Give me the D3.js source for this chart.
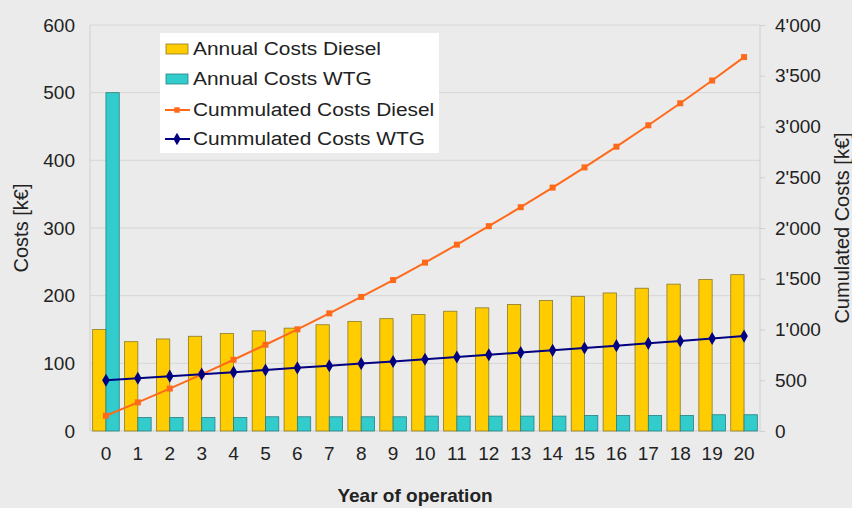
<!DOCTYPE html>
<meta charset="utf-8">
<script src="https://d3js.org/d3.v7.min.js"></script>
<style>
  body { margin: 0; background: #ebebeb; }
  text { font-family: "Liberation Sans", Arial, sans-serif; fill: #222; }
</style>
<div id="chart"></div>
<script>
// data
var years = d3.range(0, 21);
var annualDiesel = [150, 132, 136, 140, 144, 148, 152, 157, 162, 166, 172, 177, 182, 187, 193, 199, 204, 211, 217, 224, 231];
var annualWTG = [500, 20, 20, 20, 20, 21, 21, 21, 21, 21, 22, 22, 22, 22, 22, 23, 23, 23, 23, 24, 24];
var cumDiesel = [150, 282, 418, 558, 702, 850, 1002, 1159, 1321, 1487, 1659, 1836, 2018, 2205, 2398, 2597, 2801, 3012, 3229, 3453, 3684];
var cumWTG = [500, 520, 540, 560, 580, 601, 622, 643, 664, 685, 707, 729, 751, 773, 795, 818, 841, 864, 887, 911, 935];
var leftTicks = [0, 100, 200, 300, 400, 500, 600];
var rightTicks = [0, 500, 1000, 1500, 2000, 2500, 3000, 3500, 4000];

var W = 852, H = 508;
var margin = {top: 25, right: 92, bottom: 77, left: 90};
var width = W - margin.left - margin.right,
    height = H - margin.top - margin.bottom;

var svg = d3.select("#chart").append("svg")
    .attr("width", W).attr("height", H)
    .style("background", "#ebebeb");

var g = svg.append("g")
    .attr("transform", "translate(" + margin.left + "," + margin.top + ")");

var x = d3.scaleBand().domain(years).range([0, width]).padding(0);
var xSub = d3.scaleBand().domain(["diesel", "wtg"]).range([0, x.bandwidth()])
    .paddingInner(0).paddingOuter(0.2);
var y = d3.scaleLinear().domain([0, 600]).range([height, 0]);
var y2 = d3.scaleLinear().domain([0, 4000]).range([height, 0]);

// grid
g.append("g").selectAll("line")
  .data(leftTicks.slice(1))
  .enter().append("line")
    .attr("x1", 0).attr("x2", width)
    .attr("y1", function(d) { return y(d); })
    .attr("y2", function(d) { return y(d); })
    .attr("stroke", "#d6d6d6").attr("stroke-width", 1);

// frame
g.append("line").attr("x1", 0).attr("x2", 0).attr("y1", 0).attr("y2", height)
  .attr("stroke", "#cfcfcf");
g.append("line").attr("x1", width).attr("x2", width).attr("y1", 0).attr("y2", height)
  .attr("stroke", "#cfcfcf");
g.append("line").attr("x1", 0).attr("x2", width).attr("y1", height).attr("y2", height)
  .attr("stroke", "#cfcfcf");

// bars
var bars = g.append("g").selectAll("g")
  .data(years)
  .enter().append("g")
    .attr("transform", function(d) { return "translate(" + x(d) + ",0)"; });

bars.append("rect")
    .attr("x", xSub("diesel"))
    .attr("y", function(d, i) { return y(annualDiesel[i]); })
    .attr("width", xSub.bandwidth())
    .attr("height", function(d, i) { return height - y(annualDiesel[i]); })
    .attr("fill", "#ffcc00")
    .attr("stroke", "#8a7a2a").attr("stroke-width", 0.8);

bars.append("rect")
    .attr("x", xSub("wtg"))
    .attr("y", function(d, i) { return y(annualWTG[i]); })
    .attr("width", xSub.bandwidth())
    .attr("height", function(d, i) { return height - y(annualWTG[i]); })
    .attr("fill", "#33cccc")
    .attr("stroke", "#2a7f80").attr("stroke-width", 0.8);

// lines
var cx = function(d, i) { return x(years[i]) + x.bandwidth() / 2; };
var lineD = d3.line().x(cx).y(function(d) { return y2(d); });

g.append("path").datum(cumDiesel)
    .attr("d", lineD).attr("fill", "none")
    .attr("stroke", "#ff6a1a").attr("stroke-width", 2);
g.append("g").selectAll("rect")
  .data(cumDiesel)
  .enter().append("rect")
    .attr("x", function(d, i) { return cx(d, i) - 3; })
    .attr("y", function(d) { return y2(d) - 3; })
    .attr("width", 6).attr("height", 6)
    .attr("fill", "#ff6a1a");

g.append("path").datum(cumWTG)
    .attr("d", lineD).attr("fill", "none")
    .attr("stroke", "#000080").attr("stroke-width", 2);
g.append("g").selectAll("path")
  .data(cumWTG)
  .enter().append("path")
    .attr("d", d3.symbol().type(d3.symbolDiamond).size(50))
    .attr("transform", function(d, i) { return "translate(" + cx(d, i) + "," + y2(d) + ")"; })
    .attr("fill", "#000080");

// axes
var yAxis = g.append("g")
    .call(d3.axisLeft(y).tickValues(leftTicks).tickSize(0).tickPadding(15));
yAxis.select(".domain").remove();
yAxis.selectAll("text").style("font-size", "19px");

var fmt = function(d) { return d3.format(",")(d).replace(",", "'"); };
var y2Axis = g.append("g")
    .attr("transform", "translate(" + width + ",0)")
    .call(d3.axisRight(y2).tickValues(rightTicks).tickFormat(fmt).tickSize(5).tickPadding(10));
y2Axis.select(".domain").remove();
y2Axis.selectAll("line").attr("stroke", "#cfcfcf");
y2Axis.selectAll("text").style("font-size", "19px");

var xAxis = g.append("g")
    .attr("transform", "translate(0," + height + ")")
    .call(d3.axisBottom(x).tickSize(0).tickPadding(16));
xAxis.select(".domain").remove();
xAxis.selectAll("text").style("font-size", "19px");

// axis titles
svg.append("text")
    .attr("transform", "translate(28," + (margin.top + height / 2) + ") rotate(-90)")
    .attr("text-anchor", "middle")
    .style("font-size", "20px")
    .text("Costs [k€]");

svg.append("text")
    .attr("transform", "translate(849," + (margin.top + height / 2) + ") rotate(-90)")
    .attr("text-anchor", "middle")
    .style("font-size", "20px")
    .text("Cumulated Costs [k€]");

svg.append("text")
    .attr("x", margin.left + width / 2 - 10).attr("y", 502)
    .attr("text-anchor", "middle")
    .style("font-size", "19px").style("font-weight", "bold")
    .text("Year of operation");

// legend
var legend = svg.append("g").attr("transform", "translate(160,33)");
legend.append("rect").attr("width", 279).attr("height", 120).attr("fill", "#fff");

var legendItems = [
  {label: "Annual Costs Diesel", kind: "bar", color: "#ffcc00", stroke: "#8a7a2a"},
  {label: "Annual Costs WTG", kind: "bar", color: "#33cccc", stroke: "#2a7f80"},
  {label: "Cummulated Costs Diesel", kind: "square", color: "#ff6a1a"},
  {label: "Cummulated Costs WTG", kind: "diamond", color: "#000080"}
];
var rowY = [16, 46, 77, 106];

var item = legend.selectAll("g.item")
  .data(legendItems)
  .enter().append("g")
    .attr("class", "item")
    .attr("transform", function(d, i) { return "translate(0," + rowY[i] + ")"; });

item.filter(function(d) { return d.kind === "bar"; })
  .append("rect")
    .attr("x", 6).attr("y", -5).attr("width", 22).attr("height", 10)
    .attr("fill", function(d) { return d.color; })
    .attr("stroke", function(d) { return d.stroke; }).attr("stroke-width", 0.8);

var lineItems = item.filter(function(d) { return d.kind !== "bar"; });
lineItems.append("line")
    .attr("x1", 5).attr("x2", 30).attr("y1", 0).attr("y2", 0)
    .attr("stroke", function(d) { return d.color; }).attr("stroke-width", 2);
lineItems.append("path")
    .attr("transform", "translate(17,0)")
    .attr("d", function(d) {
      return d.kind === "square"
        ? d3.symbol().type(d3.symbolSquare).size(30)()
        : d3.symbol().type(d3.symbolDiamond).size(45)();
    })
    .attr("fill", function(d) { return d.color; });

item.append("text")
    .attr("transform", "translate(33,0) scale(1.16,1)")
    .attr("dy", "0.35em")
    .style("font-size", "18px")
    .text(function(d) { return d.label; });
</script>
